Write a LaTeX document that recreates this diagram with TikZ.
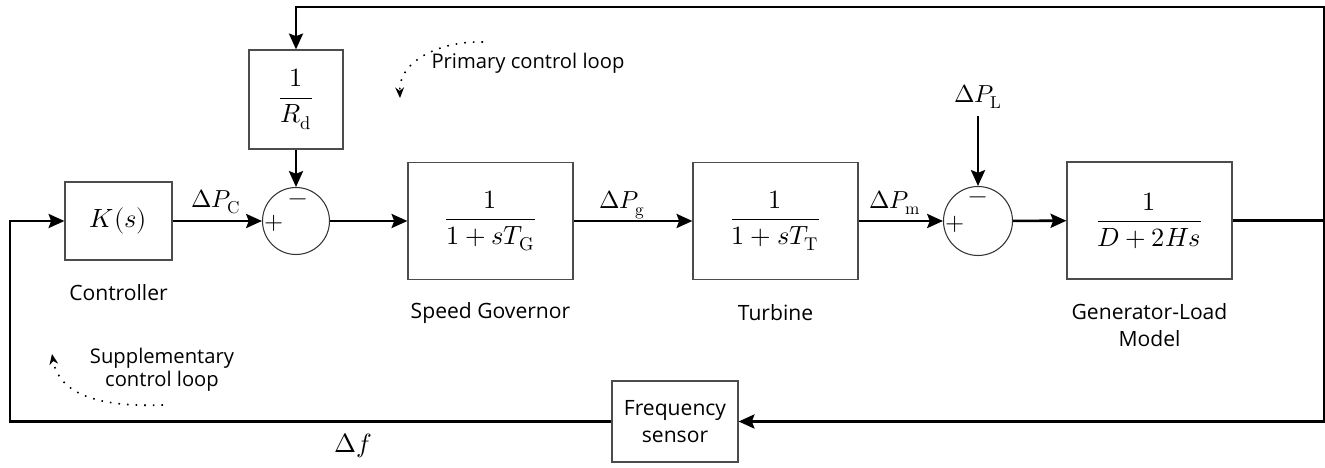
\documentclass[tikz,border=0pt]{standalone}
\usepackage{amsmath}
\usepackage{fontspec}
\usepackage{unicode-math}
\setmainfont{Open Sans}
\setmathfont{Latin Modern Math}
\usetikzlibrary{arrows.meta,positioning,calc,shapes.geometric}
\tikzset{
  blk/.style={draw=black!70,line width=0.7pt,minimum width=3.3cm,minimum height=2.34cm,
              font=\fontsize{15}{17}\selectfont,inner sep=0pt},
  sumc/.style={draw=black!80,line width=0.6pt,circle,minimum size=1.34cm,inner sep=0pt},
  sgn/.style={font=\fontsize{14}{15}\selectfont,inner sep=0pt},
  lbl/.style={font=\fontsize{12}{15}\selectfont,align=center},
  sig/.style={font=\fontsize{14}{16}\selectfont,inner sep=1pt},
  wire/.style={line width=1.5pt},
  arr/.style={-{Stealth[length=9pt,width=8pt,inset=1.5pt]},line width=1.5pt},
  loopy/.style={-{Stealth[length=6pt,width=5pt]},line width=0.9pt,
                dash pattern=on 0.9pt off 4pt},
}
\begin{document}
\begin{tikzpicture}
  \useasboundingbox (0,0) rectangle (26.5,-9.36);
  % forward path blocks
  \node[blk, minimum width=2.14cm, minimum height=1.56cm] (ctrl) at (2.37,-4.42) {$K(s)$};
  \node[sumc] (sum1) at (5.92,-4.42) {};
  \node[blk, minimum width=1.88cm, minimum height=1.98cm] (rd) at (5.92,-1.99) {$\dfrac{1}{R_{\symup{d}}}$};
  \node[blk] (gov) at (9.81,-4.42) {$\dfrac{1}{1+sT_{\symup{G}}}$};
  \node[blk] (turb) at (15.51,-4.42) {$\dfrac{1}{1+sT_{\symup{T}}}$};
  \node[sumc, minimum size=1.38cm] (sum2) at (19.56,-4.42) {};
  \node[blk] (gen) at (22.99,-4.41) {$\dfrac{1}{D+2Hs}$};
  \node[blk, minimum width=2.52cm, minimum height=1.62cm, font=\fontsize{12}{15}\selectfont,
        align=center] (sensor) at (13.5,-8.43) {Frequency\\sensor};

  % signs on the summing points
  \node[sgn] (p1) at ($(sum1.center)+(-0.44,-0.04)$) {$+$};
  \node[sgn] (m1) at ($(sum1.center)+(0.04,0.38)$) {$-$};
  \node[sgn] (p2) at ($(sum2.center)+(-0.46,-0.06)$) {$+$};
  \node[sgn] (m2) at ($(sum2.center)+(0.0,0.42)$) {$-$};

  % block names
  \node[lbl] (ctrlname) at (2.37,-5.86) {Controller};
  \node[lbl] (govname) at (9.81,-6.26) {Speed Governor};
  \node[lbl] (turbname) at (15.51,-6.26) {Turbine};
  \node[lbl, align=center] (genname) at (22.99,-6.5) {Generator-Load\\Model};

  % corners of the feedback wiring
  \coordinate (tr) at (26.48,-0.14);
  \coordinate (bl) at (0.2,-8.43);

  % signals
  \node[sig] (pc) at (4.32,-4.04) {$\Delta P_{\symup{C}}$};
  \node[sig] (pg) at (12.44,-4.1) {$\Delta P_{\symup{g}}$};
  \node[sig] (pm) at (17.9,-4.06) {$\Delta P_{\symup{m}}$};
  \node[sig, inner sep=4pt] (pl) at (19.56,-1.94) {$\Delta P_{\symup{L}}$};
  \node[sig, font=\fontsize{15}{17}\selectfont] (df) at (7.06,-8.92) {$\Delta f$};

  \draw[arr] (ctrl) -- (sum1);
  \draw[arr] (sum1) -- (gov);
  \draw[arr] (rd) -- (sum1);
  \draw[arr] (gov) -- (turb);
  \draw[arr] (turb) -- (sum2);
  \draw[arr] (pl.south) -- (sum2);
  \draw[arr] (sum2) -- (gen);
  \draw[arr] (gen.east) -| (tr) -| (rd.north);
  \draw[arr] (gen.east -| tr) |- (sensor.east);
  \draw[arr] (sensor.west) -- (bl) |- (ctrl.west);

  % loop annotations
  \node[lbl, font=\fontsize{11.5}{14}\selectfont] (prim) at (10.56,-1.26) {Primary control loop};
  \coordinate (pa) at (9.66,-0.84);
  \coordinate (pb) at (8.0,-1.96);
  \draw[loopy] (pa) to[out=178,in=92] (pb);
  \node[lbl, font=\fontsize{11.5}{13}\selectfont] (supp) at (3.24,-7.4) {Supplementary\\control loop};
  \coordinate (sa) at (3.26,-8.1);
  \coordinate (sb) at (1.04,-7.08);
  \draw[loopy] (sa) to[out=182,in=-80] (sb);
\end{tikzpicture}
\end{document}
